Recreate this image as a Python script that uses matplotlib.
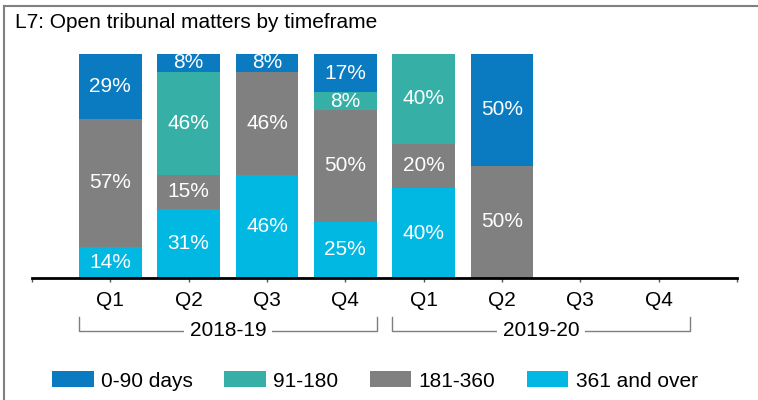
import matplotlib.pyplot as plt
from matplotlib.lines import Line2D
from matplotlib.patches import Patch
import matplotlib.transforms as mtransforms

plt.rcParams['font.family'] = ['Liberation Sans', 'DejaVu Sans']

quarters = ['Q1', 'Q2', 'Q3', 'Q4', 'Q1', 'Q2', 'Q3', 'Q4']
years = ['2018-19', '2019-20']
series_names = ['0-90 days', '91-180', '181-360', '361 and over']
colors = ['#0A7BC1', '#36B0A7', '#808080', '#00B8E2']

# stacked bottom to top: 361+, 181-360, 91-180, 0-90
over_361 = [14, 31, 46, 25, 40, 0, 0, 0]
d181_360 = [57, 15, 46, 50, 20, 50, 0, 0]
d91_180 = [0, 46, 0, 8, 40, 0, 0, 0]
d0_90 = [29, 8, 8, 17, 0, 50, 0, 0]

fig = plt.figure(figsize=(7.58, 4.0), dpi=100)
ax = fig.add_axes([32 / 758, 1 - 278 / 400, 705 / 758, 224 / 400])

x = list(range(len(quarters)))
width = 0.8
stack = [(over_361, colors[3]), (d181_360, colors[2]), (d91_180, colors[1]), (d0_90, colors[0])]
bottom = [0] * len(x)
for vals, c in stack:
    ax.bar(x, vals, width, bottom=bottom, color=c, linewidth=0)
    for i, v in enumerate(vals):
        if v > 0:
            ax.text(i, bottom[i] + v / 2, f'{v}%', ha='center', va='center',
                    color='white', fontsize=15)
    bottom = [b + v for b, v in zip(bottom, vals)]

ax.set_xlim(-1, 8)
ax.set_ylim(0, 100)
ax.set_xticks([-1] + x + [8])
ax.set_xticklabels([''] + quarters + [''], fontsize=15)
ax.tick_params(axis='x', length=3, width=1, color='#555555', pad=6)
ax.set_yticks([])
for s in ['top', 'right', 'left']:
    ax.spines[s].set_visible(False)
ax.spines['bottom'].set_linewidth(2)
ax.spines['bottom'].set_color('black')

# year group brackets under the quarter labels
trans = mtransforms.blended_transform_factory(ax.transData, fig.transFigure)
y_line = 1 - 331 / 400
y_top = 1 - 317 / 400
for g, label in enumerate(years):
    x0 = g * 4 - width / 2
    x1 = g * 4 + 3 + width / 2
    ax.plot([x0, x0, x1, x1], [y_top, y_line, y_line, y_top], transform=trans,
            color='#7f7f7f', lw=1, clip_on=False)
    ax.text((x0 + x1) / 2, y_line, label, transform=trans, ha='center', va='center',
            fontsize=15, bbox=dict(facecolor='white', edgecolor='none', pad=4))

fig.text(15 / 758, 1 - 23 / 400, 'L7: Open tribunal matters by timeframe',
         ha='left', va='center', fontsize=15)

handles = [Patch(facecolor=c, edgecolor='none') for c in colors]
fig.legend(handles, series_names, loc='center', bbox_to_anchor=(375 / 758, 1 - 381 / 400),
           ncol=4, frameon=False, fontsize=15, handlelength=2.0, handleheight=0.8,
           handletextpad=0.35, columnspacing=1.5)

# frame lines along top and left edge
fig.add_artist(Line2D([4 / 758, 4 / 758], [0, 1 - 6 / 400], transform=fig.transFigure,
                      color='#808080', lw=1.5))
fig.add_artist(Line2D([4 / 758, 1], [1 - 6 / 400, 1 - 6 / 400], transform=fig.transFigure,
                      color='#808080', lw=1.5))

fig.savefig('out.png', dpi=100)
